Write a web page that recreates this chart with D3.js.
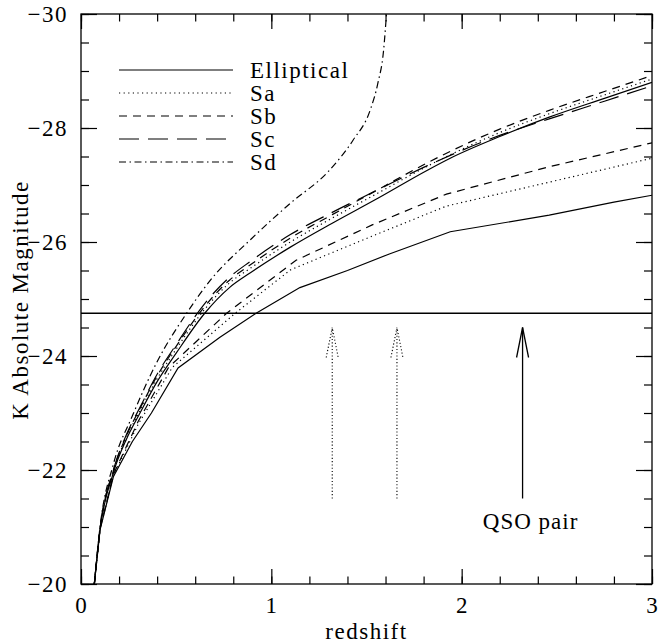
<!DOCTYPE html>
<html>
<head>
<meta charset="utf-8">
<script src="https://cdn.jsdelivr.net/npm/d3@7"></script>
<style>
body { margin: 0; background: #fff; }
</style>
</head>
<body>
<div id="chart"></div>
<script>
// [redshift, K absolute magnitude]
const ellipticalEvol = [[0.07,-20],[0.1,-20.95],[0.17,-21.95],[0.24,-22.55],[0.31,-23.0],[0.4,-23.55],[0.5,-24.05],[0.65,-24.75],[0.78,-25.2],[0.89,-25.46],[1.1,-25.91],[1.32,-26.33],[1.55,-26.75],[1.82,-27.26],[1.94,-27.47],[2.2,-27.85],[2.46,-28.19],[2.75,-28.52],[3.0,-28.8]];
const saEvol = [[0.07,-20],[0.1,-20.95],[0.17,-21.97],[0.24,-22.58],[0.31,-23.04],[0.4,-23.6],[0.5,-24.12],[0.65,-24.82],[0.78,-25.28],[0.89,-25.54],[1.1,-26.0],[1.32,-26.42],[1.55,-26.84],[1.82,-27.33],[1.94,-27.53],[2.2,-27.92],[2.46,-28.25],[2.75,-28.58],[3.0,-28.86]];
const sbEvol = [[0.07,-20],[0.1,-20.96],[0.17,-21.99],[0.24,-22.61],[0.31,-23.08],[0.4,-23.65],[0.5,-24.17],[0.65,-24.87],[0.78,-25.33],[0.89,-25.6],[1.1,-26.07],[1.32,-26.48],[1.55,-26.9],[1.82,-27.39],[1.94,-27.59],[2.2,-27.98],[2.46,-28.31],[2.75,-28.64],[3.0,-28.92]];
const scEvol = [[0.07,-20],[0.1,-20.97],[0.17,-22.0],[0.24,-22.63],[0.31,-23.1],[0.4,-23.68],[0.5,-24.2],[0.65,-24.92],[0.78,-25.38],[0.89,-25.66],[1.1,-26.13],[1.32,-26.52],[1.55,-26.9],[1.82,-27.34],[1.94,-27.52],[2.2,-27.87],[2.46,-28.16],[2.75,-28.47],[3.0,-28.74]];
const sdEvol = [[0.07,-20],[0.1,-21.0],[0.17,-22.1],[0.27,-22.95],[0.4,-23.9],[0.555,-24.75],[0.68,-25.33],[0.89,-26.04],[1.1,-26.68],[1.3,-27.24],[1.43,-27.79],[1.52,-28.32],[1.56,-28.79],[1.59,-29.37],[1.605,-30.0]];
const ellipticalNoEvol = [[0.07,-20],[0.1,-20.95],[0.17,-21.88],[0.27,-22.5],[0.37,-23.0],[0.51,-23.79],[0.73,-24.33],[0.92,-24.75],[1.15,-25.2],[1.4,-25.5],[1.62,-25.79],[1.94,-26.18],[2.46,-26.47],[2.8,-26.7],[3.0,-26.82]];
const saNoEvol = [[0.07,-20],[0.1,-20.96],[0.17,-21.9],[0.3,-22.8],[0.48,-23.8],[0.81,-24.75],[1.1,-25.51],[1.52,-26.09],[1.92,-26.63],[2.46,-27.05],[3.0,-27.47]];
const sbNoEvol = [[0.07,-20],[0.1,-20.97],[0.17,-21.92],[0.3,-22.85],[0.46,-23.8],[0.765,-24.75],[1.13,-25.68],[1.53,-26.3],[1.92,-26.84],[2.46,-27.32],[3.0,-27.74]];

const legendNames = ["Elliptical", "Sa", "Sb", "Sc", "Sd"];
const limitMag = -24.75;
const arrowZ = [1.32, 1.66, 2.32];
const arrowMag = [-21.5, -24.5];
const xMajorTicks = [0, 1, 2, 3];
const yMajorTicks = [-30, -28, -26, -24, -22, -20];

const dash = {
    solid: null,
    dotted: "1.2,3.4",
    dashed: "8,6",
    longdash: "20,9",
    dashdot: "7,3.5,1.5,3.5"
};

const series = [
    { data: ellipticalEvol, style: "solid", smooth: true },
    { data: saEvol, style: "dotted", smooth: true },
    { data: sbEvol, style: "dashed", smooth: true },
    { data: scEvol, style: "longdash", smooth: true },
    { data: sdEvol, style: "dashdot", smooth: true },
    { data: ellipticalNoEvol, style: "solid", smooth: false },
    { data: saNoEvol, style: "dotted", smooth: false },
    { data: sbNoEvol, style: "dashed", smooth: false }
];
const legendStyles = ["solid", "dotted", "dashed", "longdash", "dashdot"];

const margin = { top: 14, right: 6, bottom: 60, left: 81 };
const width = 652 - margin.left;
const height = 584 - margin.top;

const serif = '"Liberation Serif", "Times New Roman", "DejaVu Serif", serif';
const fontSize = "23px";

const svg = d3.select("#chart").append("svg")
    .attr("width", 658)
    .attr("height", 644)
    .append("g")
    .attr("transform", `translate(${margin.left},${margin.top})`);

const x = d3.scaleLinear().domain([0, 3]).range([0, width]);
const y = d3.scaleLinear().domain([-30, -20]).range([0, height]);

svg.append("clipPath").attr("id", "clip")
    .append("rect").attr("width", width).attr("height", height);

function label(sel, spacing) {
    return sel.attr("font-family", serif)
        .style("font-family", serif)
        .style("font-size", fontSize)
        .style("letter-spacing", spacing)
        .attr("fill", "#000");
}

// ticks on all four sides
function tickAxis(axis, transform, labels) {
    const g = svg.append("g").attr("transform", transform).call(axis);
    g.select(".domain").remove();
    g.selectAll("line").attr("stroke", "#000").attr("stroke-width", 1.2);
    if (!labels) g.selectAll("text").remove();
    return g;
}

const xMinor = d3.range(0, 3.001, 0.2);
const yMinor = d3.range(-30, -19.999, 0.5);

const xLab = tickAxis(d3.axisBottom(x).tickValues(xMajorTicks).tickSize(-15).tickPadding(13).tickFormat(d3.format("d")), `translate(0,${height})`, true);
label(xLab.selectAll("text"), "1px");
tickAxis(d3.axisBottom(x).tickValues(xMinor).tickSize(-7.5).tickFormat(""), `translate(0,${height})`, false);
tickAxis(d3.axisTop(x).tickValues(xMajorTicks).tickSize(-15).tickFormat(""), "translate(0,0)", false);
tickAxis(d3.axisTop(x).tickValues(xMinor).tickSize(-7.5).tickFormat(""), "translate(0,0)", false);

const yLab = tickAxis(d3.axisLeft(y).tickValues(yMajorTicks).tickSize(-16).tickPadding(13), "translate(0,0)", true);
label(yLab.selectAll("text"), "1.5px").attr("dy", "0.34em");
tickAxis(d3.axisLeft(y).tickValues(yMinor).tickSize(-8).tickFormat(""), "translate(0,0)", false);
tickAxis(d3.axisRight(y).tickValues(yMajorTicks).tickSize(-16).tickFormat(""), `translate(${width},0)`, false);
tickAxis(d3.axisRight(y).tickValues(yMinor).tickSize(-8).tickFormat(""), `translate(${width},0)`, false);

svg.append("rect")
    .attr("width", width)
    .attr("height", height)
    .attr("fill", "none")
    .attr("stroke", "#000")
    .attr("stroke-width", 1.3);

const plot = svg.append("g").attr("clip-path", "url(#clip)");

series.forEach(s => {
    const line = d3.line()
        .x(d => x(d[0]))
        .y(d => y(d[1]))
        .curve(s.smooth ? d3.curveMonotoneX : d3.curveLinear);
    plot.append("path")
        .datum(s.data)
        .attr("fill", "none")
        .attr("stroke", "#000")
        .attr("stroke-width", 1.2)
        .attr("stroke-dasharray", dash[s.style])
        .attr("d", line);
});

// magnitude limit
plot.append("line")
    .attr("x1", x(0)).attr("x2", x(3))
    .attr("y1", y(limitMag)).attr("y2", y(limitMag))
    .attr("stroke", "#000")
    .attr("stroke-width", 1.3);

// arrows
arrowZ.forEach((z, i) => {
    const solid = i === arrowZ.length - 1;
    const g = plot.append("g")
        .attr("stroke", "#000")
        .attr("stroke-width", solid ? 1.3 : 1.1)
        .attr("stroke-dasharray", solid ? null : "1.1,2.2")
        .attr("fill", "none");
    const ax = x(z), top = y(arrowMag[1]), bot = y(arrowMag[0]);
    g.append("line").attr("x1", ax).attr("x2", ax).attr("y1", bot).attr("y2", top);
    g.append("path").attr("d", `M${ax - 6},${top + 30}L${ax},${top}L${ax + 6},${top + 30}`);
});

label(svg.append("text"), "1px")
    .attr("x", x(arrowZ[2]) + 8)
    .attr("y", y(arrowMag[0]) + 30)
    .attr("text-anchor", "middle")
    .text("QSO pair");

// legend
const legend = svg.append("g");
legendNames.forEach((name, i) => {
    const ly = 56 + i * 23;
    legend.append("line")
        .attr("x1", 119 - margin.left).attr("x2", 233 - margin.left)
        .attr("y1", ly).attr("y2", ly)
        .attr("stroke", "#000")
        .attr("stroke-width", 1.2)
        .attr("stroke-dasharray", dash[legendStyles[i]]);
    label(legend.append("text"), "1.5px")
        .attr("x", 250 - margin.left)
        .attr("y", ly + 7.5)
        .text(name);
});

// axis labels
label(svg.append("text"), "1.5px")
    .attr("x", width / 2)
    .attr("y", height + margin.bottom - 5)
    .attr("text-anchor", "middle")
    .text("redshift");

label(svg.append("text"), "1.5px")
    .attr("transform", "rotate(-90)")
    .attr("x", -(300 - margin.top))
    .attr("y", 28 - margin.left)
    .attr("text-anchor", "middle")
    .text("K Absolute Magnitude");
</script>
</body>
</html>
